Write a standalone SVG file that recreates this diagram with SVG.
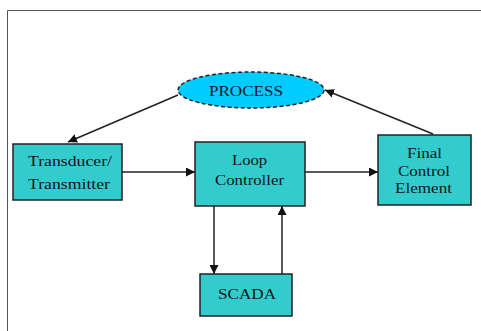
<svg xmlns="http://www.w3.org/2000/svg" width="481" height="331" viewBox="0 0 481 331">
<defs>
<style>
.box{fill:#33CCCC;stroke:#222;stroke-width:1.5}
.t{font-family:"Liberation Serif","Times New Roman",serif;font-size:14.5px;fill:#0d1420;text-anchor:middle}
.c{stroke:#222;stroke-width:1.5;fill:none;marker-end:url(#ah)}
</style>
<marker id="ah" viewBox="0 0 10 10" refX="10" refY="5" markerWidth="9" markerHeight="9" markerUnits="userSpaceOnUse" orient="auto">
<path d="M0,0 L10,5 L0,10 z" fill="#111"/>
</marker>
</defs>
<rect width="481" height="331" fill="#fff"/>
<path d="M7.5,331 V10.5 H481" fill="none" stroke="#555" stroke-width="1"/>
<g id="connectors">
<line class="c" x1="178" y1="95" x2="68" y2="142"/>
<line class="c" x1="433" y1="134" x2="325" y2="90"/>
<line class="c" x1="122" y1="172" x2="195" y2="172"/>
<line class="c" x1="305" y1="172" x2="378" y2="172"/>
<line class="c" x1="214" y1="206" x2="214" y2="274"/>
<line class="c" x1="282" y1="274" x2="282" y2="206"/>
</g>
<g id="process">
<ellipse cx="251" cy="90" rx="73" ry="18" fill="#00CCFF" stroke="#222" stroke-width="1.5" stroke-dasharray="4,2.5"/>
<text class="t" x="246" y="96" textLength="74" lengthAdjust="spacingAndGlyphs">PROCESS</text>
</g>
<g id="transducer">
<rect class="box" x="13" y="144" width="109" height="56"/>
<text class="t" x="70" y="166" textLength="84" lengthAdjust="spacingAndGlyphs">Transducer/</text>
<text class="t" x="69" y="189" textLength="82" lengthAdjust="spacingAndGlyphs">Transmitter</text>
</g>
<g id="loop">
<rect class="box" x="195" y="142" width="110" height="64"/>
<text class="t" x="249.5" y="165" textLength="35" lengthAdjust="spacingAndGlyphs">Loop</text>
<text class="t" x="249.5" y="185" textLength="69" lengthAdjust="spacingAndGlyphs">Controller</text>
</g>
<g id="final">
<rect class="box" x="378" y="135" width="93" height="70"/>
<text class="t" x="424.5" y="158" textLength="35" lengthAdjust="spacingAndGlyphs">Final</text>
<text class="t" x="424" y="176" textLength="52" lengthAdjust="spacingAndGlyphs">Control</text>
<text class="t" x="423.5" y="193" textLength="57" lengthAdjust="spacingAndGlyphs">Element</text>
</g>
<g id="scada">
<rect class="box" x="200" y="274" width="92" height="42"/>
<text class="t" x="247" y="299" textLength="58" lengthAdjust="spacingAndGlyphs">SCADA</text>
</g>
</svg>
